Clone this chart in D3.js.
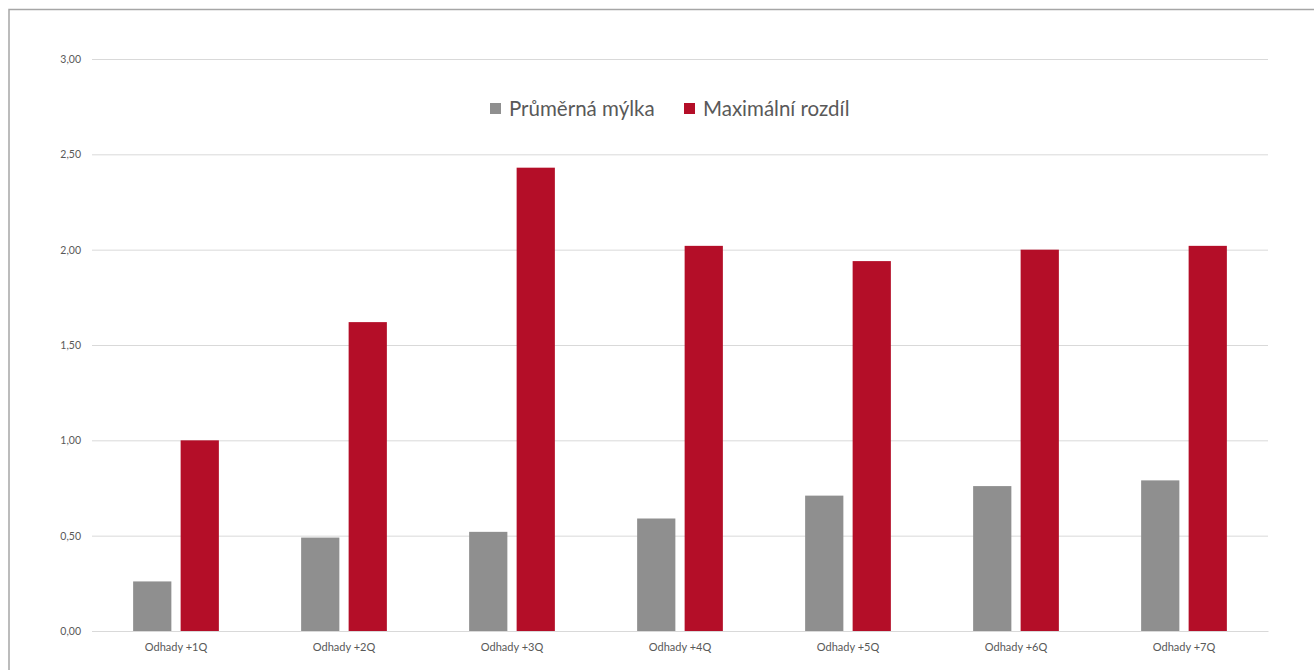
<!DOCTYPE html>
<html>
<head>
<meta charset="utf-8">
<script src="https://cdn.jsdelivr.net/npm/d3@7"></script>
<style>
  html, body { margin: 0; padding: 0; background: #fff; }
  svg { display: block; }
  text { font-family: Lato, "Open Sans", sans-serif; fill: #595959; }
</style>
</head>
<body>
<svg id="chart" width="1314" height="670"></svg>
<script>
const categories = ["Odhady +1Q", "Odhady +2Q", "Odhady +3Q", "Odhady +4Q", "Odhady +5Q", "Odhady +6Q", "Odhady +7Q"];
const seriesNames = ["Průměrná mýlka", "Maximální rozdíl"];
const prumernaMylka = [0.26, 0.49, 0.52, 0.59, 0.71, 0.76, 0.79];
const maximalniRozdil = [1.00, 1.62, 2.43, 2.02, 1.94, 2.00, 2.02];
const yTicks = [0, 0.5, 1.0, 1.5, 2.0, 2.5, 3.0];
const colors = ["#8f8f8f", "#b40e28"];

const seriesValues = [prumernaMylka, maximalniRozdil];
const data = categories.map((c, i) => ({
  category: c,
  values: seriesNames.map((s, j) => ({ series: s, value: seriesValues[j][i], idx: j }))
}));

const svg = d3.select("#chart");

// outer border
svg.append("rect")
  .attr("x", 9).attr("y", 9.5)
  .attr("width", 1320).attr("height", 680)
  .attr("fill", "none").attr("stroke", "#a6a6a6").attr("stroke-width", 1.5);

const mLeft = 92, mRight = 1268, mTop = 59, mBottom = 631;

const x0 = d3.scaleBand().domain(categories).range([mLeft, mRight]).paddingInner(0).paddingOuter(0);
const x1 = d3.scaleBand().domain(seriesNames).range([0, x0.bandwidth()]).paddingInner(0.195).paddingOuter(0.866);
const y = d3.scaleLinear().domain([0, 3]).range([mBottom, mTop]);

const fmt = v => d3.format(".2f")(v).replace(".", ",");

// gridlines
const yAxis = d3.axisLeft(y).tickValues(yTicks).tickSize(-(mRight - mLeft)).tickFormat(fmt).tickPadding(11);
const gy = svg.append("g").attr("transform", `translate(${mLeft},0)`).call(yAxis);
gy.select(".domain").remove();
gy.selectAll(".tick line").attr("stroke", "#d9d9d9").attr("stroke-width", 1);
gy.selectAll(".tick text").attr("font-size", 10.5).attr("fill", "#595959")
  .style("font-family", "Lato, 'Open Sans', sans-serif");

// bars
const groups = svg.append("g").selectAll("g").data(data).join("g")
  .attr("transform", d => `translate(${x0(d.category)},0)`);
groups.selectAll("rect").data(d => d.values).join("rect")
  .attr("x", d => x1(d.series))
  .attr("y", d => y(d.value))
  .attr("width", x1.bandwidth())
  .attr("height", d => y(0) - y(d.value))
  .attr("fill", d => colors[d.idx]);

// x axis
const xAxis = d3.axisBottom(x0).tickSize(0).tickPadding(12);
const gx = svg.append("g").attr("transform", `translate(0,${mBottom})`).call(xAxis);
gx.select(".domain").attr("stroke", "#d9d9d9");
gx.selectAll(".tick text").attr("font-size", 11).attr("fill", "#595959")
  .style("font-family", "Lato, 'Open Sans', sans-serif");

// legend
const legendItems = [
  { name: seriesNames[0], color: colors[0], x: 490 },
  { name: seriesNames[1], color: colors[1], x: 684 }
];
const lg = svg.append("g");
legendItems.forEach(it => {
  lg.append("rect").attr("x", it.x).attr("y", 103).attr("width", 11).attr("height", 11).attr("fill", it.color);
  lg.append("text").attr("x", it.x + 19).attr("y", 116).attr("font-size", 20.5).text(it.name);
});
</script>
</body>
</html>
